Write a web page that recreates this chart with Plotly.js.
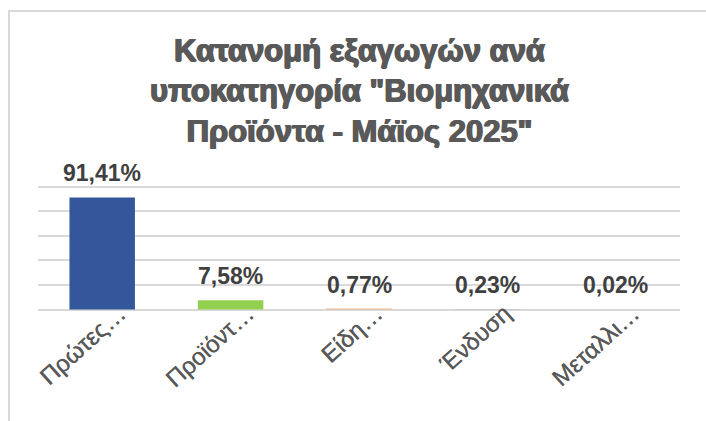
<!DOCTYPE html>
<html>
<head>
<meta charset="utf-8">
<script src="https://cdn.plot.ly/plotly-3.0.1.min.js"></script>
<style>
  html, body { margin: 0; padding: 0; background: #fff; }
  #frame { position: absolute; left: 8px; top: 10px; width: 720px; height: 430px;
           border-left: 2px solid #d9d9d9; border-top: 2px solid #d9d9d9; pointer-events: none; z-index: 2; }
  #chart { position: absolute; left: 0; top: 0; width: 706px; height: 421px; }
</style>
</head>
<body>
<div id="chart"></div>
<div id="frame"></div>
<script>
const categories = ["Πρώτες…", "Προϊόντ…", "Είδη…", "Ένδυση", "Μεταλλι…"];
const shares = [91.41, 7.58, 0.77, 0.23, 0.02];
const barColors = ["#34569b", "#92d050", "#f4b183", "#a5a5a5", "#ffc000"];
const yTicks = [0, 20, 40, 60, 80, 100];
const titleLines = ['Κατανομή εξαγωγών ανά', 'υποκατηγορία "Βιομηχανικά', 'Προϊόντα - Μάϊος 2025"'];

const labelText = shares.map(v => v.toFixed(2).replace('.', ',') + '%');

const trace = {
  type: 'bar',
  x: categories,
  y: shares,
  marker: { color: barColors, line: { width: 0 } },
  hoverinfo: 'none'
};

const annotations = categories.map((c, i) => ({
  x: c, y: shares[i], xref: 'x', yref: 'y',
  text: '<b>' + labelText[i] + '</b>', showarrow: false,
  yanchor: 'middle', yshift: 24,
  font: { family: 'Liberation Sans, Arial, sans-serif', size: 23, color: '#404040' }
}));

// chart title drawn as a bold paper-anchored annotation
annotations.push({
  xref: 'paper', yref: 'paper',
  x: (360 - 38) / 642, y: (310 - 31) / 125,
  xanchor: 'center', yanchor: 'top',
  text: titleLines.map(s => '<b>' + s + '</b>').join('<br>'),
  showarrow: false, align: 'center',
  font: { family: 'Liberation Sans, Arial, sans-serif', size: 31, color: '#595959',
          shadow: '0.8px 0 0 #595959, -0.8px 0 0 #595959, 0 0.5px 0 #595959' }
});

const layout = {
  width: 706, height: 421,
  margin: { l: 38, r: 26, t: 185, b: 111 },
  paper_bgcolor: '#ffffff', plot_bgcolor: '#ffffff',
  showlegend: false,
  bargap: 0.49,
  xaxis: {
    type: 'category',
    tickangle: -42,
    ticklabelshift: 17,
    ticklabelstandoff: -16,
    showgrid: false, showline: false, zeroline: false, ticks: '',
    tickfont: { family: 'Liberation Sans, Arial, sans-serif', size: 24, color: '#595959',
                shadow: '0.4px 0 0 #595959' }
  },
  yaxis: {
    range: [-0.4, 101.5],
    tickvals: yTicks,
    showticklabels: false,
    showgrid: true, gridcolor: '#d9d9d9', gridwidth: 2,
    zeroline: true, zerolinecolor: '#d9d9d9', zerolinewidth: 2,
    showline: false, ticks: ''
  },
  annotations: annotations
};

Plotly.newPlot('chart', [trace], layout, { displayModeBar: false, staticPlot: true });
</script>
</body>
</html>
